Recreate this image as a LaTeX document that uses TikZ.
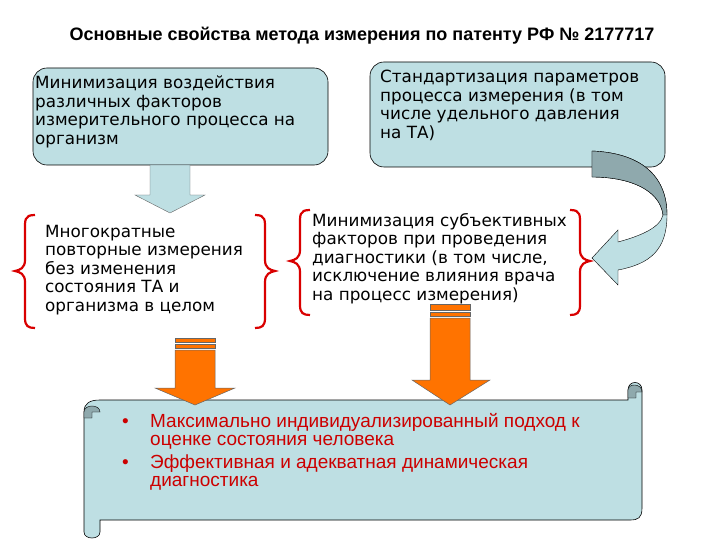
\documentclass[tikz,border=0pt]{standalone}
\usepackage{fontspec}
\setmainfont{Liberation Sans}
\newfontfamily\dvs{DejaVu Sans}
\begin{document}
\begin{tikzpicture}[x=1pt,y=-1pt,
 box/.style={draw=black,fill=lb,rounded corners=14pt,line width=0.6pt},
 txt/.style={align=left,anchor=north west,font=\dvs\fontsize{16.8}{18.5}\selectfont,inner sep=0},
 brace/.style={draw=red!85!black,line width=2.2pt},
 oarrow/.style={draw=black!60,fill=orange!90!red,line width=0.5pt}]
\definecolor{lb}{HTML}{BEDFE3}
\definecolor{dg}{HTML}{8FA9AD}
\definecolor{sc}{HTML}{BEDFE3}
\useasboundingbox (0,0) rectangle (720,540);
\node[font=\bfseries\fontsize{18}{20}\selectfont] (title) at (362,36) {Основные свойства метода измерения по патенту РФ № 2177717};
% top boxes
\draw[box] (33,68) rectangle (328,165);
\node[txt] (t1) at (35,76) {Минимизация воздействия\\различных факторов\\измерительного процесса на\\организм};
\draw[box] (370,62) rectangle (665,167);
\node[txt] (t2) at (380,70) {Стандартизация параметров\\процесса измерения (в том\\числе удельного давления\\на ТА)};
% hollow down arrow
\draw[fill=lb,draw=black!60] (150,165) -- (190,165) -- (190,195) -- (205,195) -- (170,213) -- (135,195) -- (150,195) -- cycle;
% curved arrow
\draw[fill=lb,draw=black] (592,151) .. controls (640,153) and (667,175) .. (667,215) .. controls (667,250) and (650,264) .. (618,270) -- (618,285) -- (592,258) -- (618,230) -- (618,242) .. controls (640,236) and (660,228) .. (663,215) .. controls (660,190) and (630,177) .. (592,177) -- cycle;
\draw[fill=dg,draw=black] (592,151) .. controls (640,153) and (667,175) .. (667,215) -- (663,215) .. controls (660,190) and (630,177) .. (592,177) -- cycle;
% braces
\draw[brace] (35,215) .. controls (24,215) and (25,220) .. (25,232) -- (25,260) .. controls (25,268) and (20,270) .. (15,271) .. controls (20,272) and (25,274) .. (25,282) -- (25,318) .. controls (25,326) and (28,328) .. (35,328);
\draw[brace] (255,215) .. controls (266,215) and (265,220) .. (265,232) -- (265,260) .. controls (265,268) and (270,270) .. (275,271) .. controls (270,272) and (265,274) .. (265,282) -- (265,318) .. controls (265,326) and (262,328) .. (255,328);
\draw[brace] (310,210) .. controls (299,210) and (300,215) .. (300,227) -- (300,250) .. controls (300,258) and (295,260) .. (290,261) .. controls (295,262) and (300,264) .. (300,272) -- (300,305) .. controls (300,313) and (303,315) .. (310,315);
\draw[brace] (570,210) .. controls (581,210) and (580,215) .. (580,227) -- (580,250) .. controls (580,258) and (585,260) .. (590,261) .. controls (585,262) and (580,264) .. (580,272) -- (580,305) .. controls (580,313) and (577,315) .. (570,315);
\node[txt] (t3) at (45,225) {Многократные\\повторные измерения\\без изменения\\состояния ТА и\\организма в целом};
\node[txt] (t4) at (312,213) {Минимизация субъективных\\факторов при проведения\\диагностики (в том числе,\\исключение влияния врача\\на процесс измерения)};
% scroll
\draw[fill=sc,draw=black,line width=0.6pt] (100,400) -- (628,400) -- (628,390) .. controls (628,380) and (642,380) .. (642,390) -- (642,508) .. controls (642,518) and (638,520) .. (630,520) -- (100,520) -- (100,532) .. controls (100,540) and (84,540) .. (84,532) -- (84,412) .. controls (84,403) and (90,400) .. (100,400) -- cycle;
\draw[fill=dg,draw=black] (628,390) .. controls (628,383) and (642,383) .. (642,392) -- (636,392) -- (636,398) -- (628,398) -- cycle;
\draw[fill=dg,draw=black] (84,412) .. controls (84,404) and (100,404) .. (100,412) -- (92,412) -- (92,418) -- (84,418) -- cycle;
\node[txt,font=\fontsize{19}{18}\selectfont,text=red!80!black] (t5) at (122,413) {%
\makebox[28pt][l]{•}Максимально индивидуализированный подход к\\
\hspace*{28pt}оценке состояния человека\\[5pt]
\makebox[28pt][l]{•}Эффективная и адекватная динамическая\\
\hspace*{28pt}диагностика};
% orange arrows
\draw[oarrow] (175,350) -- (215,350) -- (215,388) -- (235,388) -- (195,405) -- (155,388) -- (175,388) -- cycle;
\draw[oarrow] (175,338) rectangle (215,342);
\draw[oarrow] (175,344) rectangle (215,348);
\draw[oarrow] (430,318) -- (470,318) -- (470,380) -- (490,380) -- (450,405) -- (412,380) -- (430,380) -- cycle;
\draw[oarrow] (430,304) rectangle (470,310);
\draw[oarrow] (430,312) rectangle (470,316);
\end{tikzpicture}
\end{document}
